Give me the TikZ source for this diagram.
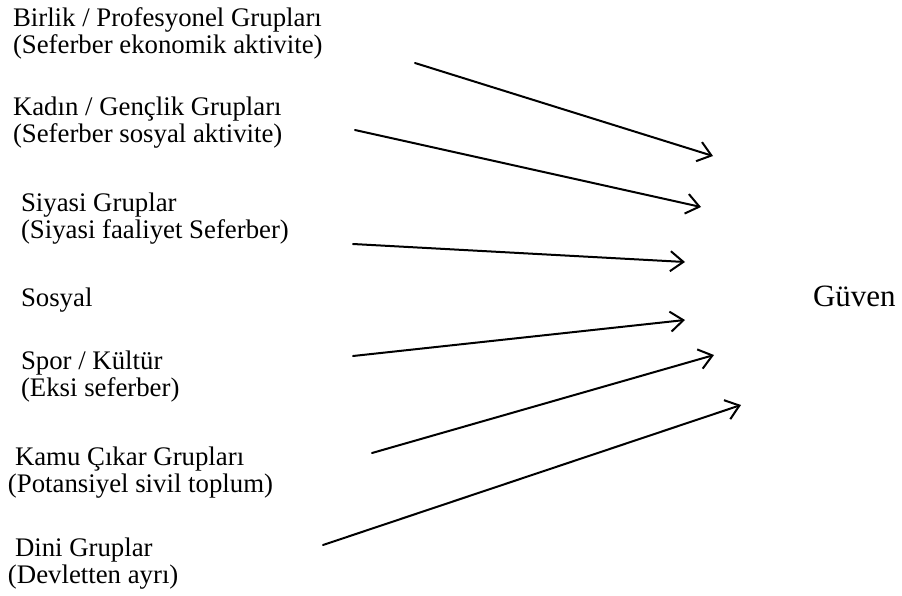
\documentclass[tikz,border=0pt]{standalone}
\usepackage{fontspec}
\setmainfont{Liberation Serif}
\usetikzlibrary{arrows.meta}

\tikzset{
  grouplabel/.style={anchor=base west, inner sep=0pt, outer sep=0pt,
    font=\fontsize{26.8}{27.5}\selectfont},
  target/.style={anchor=base west, inner sep=0pt, outer sep=0pt,
    font=\fontsize{31}{31}\selectfont},
  link/.style={line width=2pt, line cap=round,
    -{Straight Barb[length=13pt,width=20pt,line width=2pt]}},
}

% two-line label, baseline on the first line
\newcommand{\twolines}[2]{\begin{tabular}[t]{@{}l@{}}#1\\#2\end{tabular}}

\begin{document}
\begin{tikzpicture}[x=1pt,y=-1pt]
  \useasboundingbox (0,0) rectangle (902,595);

  % group labels
  \node[grouplabel] (birlik) at (13,26)
    {\twolines{Birlik / Profesyonel Grupları}{(Seferber ekonomik aktivite)}};
  \node[grouplabel] (kadin) at (13,115)
    {\twolines{Kadın / Gençlik Grupları}{(Seferber sosyal aktivite)}};
  \node[grouplabel] (siyasi) at (21,211)
    {\twolines{Siyasi Gruplar}{(Siyasi faaliyet Seferber)}};
  \node[grouplabel] (sosyal) at (21,306) {Sosyal};
  \node[grouplabel] (spor) at (21,369)
    {\twolines{Spor / Kültür}{(Eksi seferber)}};
  \node[grouplabel] (kamu) at (8,465)
    {\twolines{\hspace{7pt}Kamu Çıkar Grupları}{(Potansiyel sivil toplum)}};
  \node[grouplabel] (dini) at (8,556)
    {\twolines{\hspace{7pt}Dini Gruplar}{(Devletten ayrı)}};

  % outcome
  \node[target] (guven) at (813,306) {Güven};

  % arrow end points
  \coordinate (s1) at (415,63);  \coordinate (t1) at (713,156);
  \coordinate (s2) at (355,130); \coordinate (t2) at (701,207);
  \coordinate (s3) at (353,244); \coordinate (t3) at (685,262);
  \coordinate (s4) at (353,356); \coordinate (t4) at (685,320);
  \coordinate (s5) at (372,453); \coordinate (t5) at (714,355);
  \coordinate (s6) at (323,545); \coordinate (t6) at (741,405);

  \foreach \i in {1,...,6} { \draw[link] (s\i) -- (t\i); }
\end{tikzpicture}
\end{document}
